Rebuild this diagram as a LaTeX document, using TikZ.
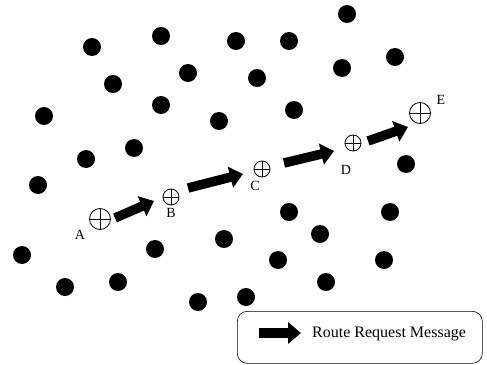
\documentclass[tikz,border=0pt]{standalone}
\usepackage{fontspec}
\setmainfont{Liberation Serif}
\usetikzlibrary{arrows.meta}
\tikzset{
  dot/.style={circle,fill=black,inner sep=0pt,minimum size=18pt},
  xnode/.style={circle,draw,line width=0.8pt,inner sep=0pt,minimum size=#1,
    path picture={\draw[line width=0.8pt] (path picture bounding box.north) -- (path picture bounding box.south)
      (path picture bounding box.west) -- (path picture bounding box.east);}},
  lbl/.style={font=\fontsize{14}{16}\selectfont,inner sep=0pt},
  msg/.style={line width=9.5pt,-{Triangle[length=13pt,width=21pt]}},
}
\begin{document}
\begin{tikzpicture}[x=1pt,y=-1pt]
\useasboundingbox (0,0) rectangle (487,364);
\foreach \i/\p in {1/{347,14},2/{92,47},3/{161,36},4/{236,41},5/{289,41},6/{113,84},7/{188,73},8/{257,78},9/{342,68},10/{395,57},11/{44,116},12/{161,105},13/{219,121},14/{294,110},15/{134,148},16/{86,159},17/{38,185},18/{406,164},19/{289,212},20/{390,212},21/{155,249},22/{320,234},23/{224,239},24/{22,255},25/{384,260},26/{118,282},27/{65,287},28/{198,302},29/{246,297},30/{278,260},31/{326,282}}
  \node[dot] (d\i) at (\p) {};
\node[xnode=21pt] (A) at (100,219) {};
\node[xnode=16pt] (B) at (171,197) {};
\node[xnode=16pt] (C) at (262,169) {};
\node[xnode=16pt] (D) at (353,143) {};
\node[xnode=21pt] (E) at (420,113) {};
\node[lbl] (lA) at (80,235) {A};
\node[lbl] (lB) at (171,213) {B};
\node[lbl] (lC) at (255,186) {C};
\node[lbl] (lD) at (346,170) {D};
\node[lbl] (lE) at (441,100) {E};
\coordinate (t1) at (115,218); \coordinate (h1) at (154,201);
\coordinate (t2) at (188,188); \coordinate (h2) at (243,174);
\coordinate (t3) at (284,163); \coordinate (h3) at (334,151);
\coordinate (t4) at (368,141); \coordinate (h4) at (408,127);
\draw[msg] (t1) -- (h1);
\draw[msg] (t2) -- (h2);
\draw[msg] (t3) -- (h3);
\draw[msg] (t4) -- (h4);
\node[draw,rounded corners=10pt,line width=0.6pt,minimum width=245pt,minimum height=52pt,anchor=north west] (legend) at (237,311) {};
\coordinate (ls) at (259,333);
\coordinate (le) at (301,333);
\draw[msg] (ls) -- (le);
\node[font=\fontsize{16}{18}\selectfont,anchor=west,inner sep=0pt] (lt) at (312,334) {Route Request Message};
\end{tikzpicture}
\end{document}
